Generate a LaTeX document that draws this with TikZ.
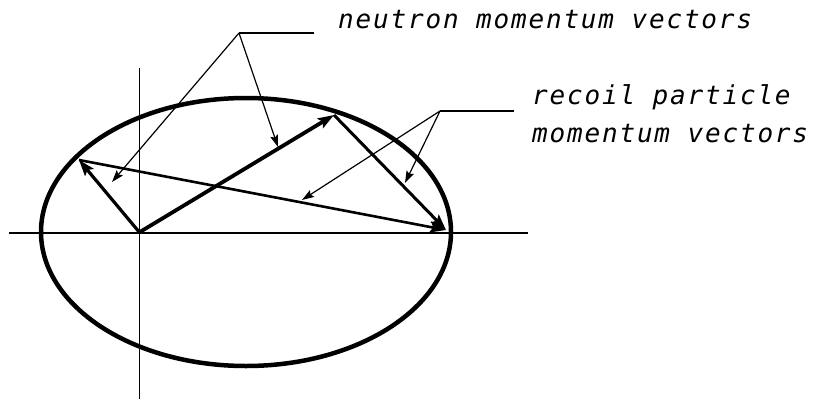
\documentclass[tikz,border=0pt]{standalone}
\usepackage{fontspec}
\newfontfamily\plotfont{DejaVu Sans Mono}[LetterSpace=7]
\usetikzlibrary{arrows.meta}
\begin{document}
\begin{tikzpicture}[x=1pt,y=-1pt,
  vec/.style={line width=#1, -{Stealth[length=16pt,width=11pt,inset=3pt]}},
  leadline/.style={line width=1.2pt},
  leadarrow/.style={line width=1.2pt, -{Stealth[length=12pt,width=8pt,inset=2pt]}},
  lbl/.style={font=\plotfont\itshape\fontsize{26}{30}\selectfont, inner sep=0pt, anchor=base west},
  axis/.style={line width=#1}]
\useasboundingbox (0,0) rectangle (813,399);
% ellipse and axes
\draw[line width=4.5pt] (246,232) ellipse [x radius=205, y radius=134];
\coordinate (hl) at (9,233);
\coordinate (hr) at (528,233);
\coordinate (vt) at (139.4,68);
\coordinate (vb) at (139.4,399);
\draw[axis=2pt] (hl) -- (hr);
\draw[axis=1.2pt] (vt) -- (vb);
% vector points
\coordinate (O) at (139.4,232.3);
\coordinate (P) at (334,115);
\coordinate (L) at (79,160);
\coordinate (E) at (446,230);
\draw[vec=2.6pt] (L) -- (E);
\draw[vec=3pt] (P) -- (E);
\draw[vec=3.8pt] (O) -- (P);
\draw[vec=3.2pt] (O) -- (L);
% labels
\node[lbl] (nlab) at (338,28.5) {neutron momentum vectors};
\node[lbl] (rlab1) at (532,104) {recoil particle};
\node[lbl] (rlab2) at (532,142) {momentum vectors};
% neutron leaders
\coordinate (nk) at (239,33);
\coordinate (ne) at (314,33);
\coordinate (na1) at (278,147);
\coordinate (na2) at (112,182);
\draw[leadline] (ne) -- (nk);
\draw[leadarrow] (nk) -- (na1);
\draw[leadarrow] (nk) -- (na2);
% recoil leaders
\coordinate (rk) at (440,111);
\coordinate (re) at (514,111);
\coordinate (ra1) at (302,200);
\coordinate (ra2) at (405,183);
\draw[leadline] (re) -- (rk);
\draw[leadarrow] (rk) -- (ra1);
\draw[leadarrow] (rk) -- (ra2);
\end{tikzpicture}
\end{document}
